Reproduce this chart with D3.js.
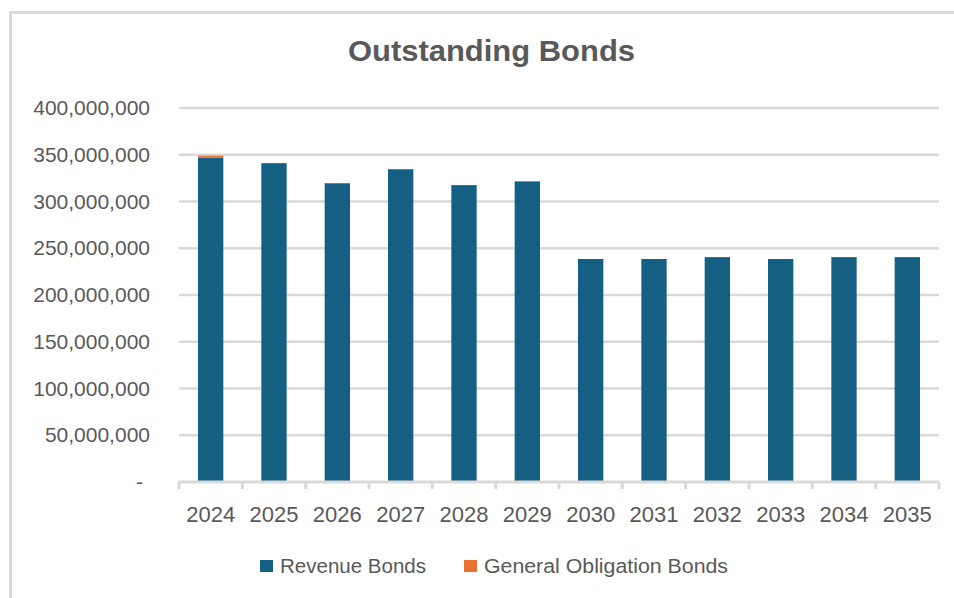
<!DOCTYPE html>
<html>
<head>
<meta charset="utf-8">
<script src="https://cdn.jsdelivr.net/npm/d3@7/dist/d3.min.js"></script>
<style>
  html, body { margin: 0; padding: 0; background: #fff; }
  svg { display: block; }
  text { font-family: "Liberation Sans", Arial, sans-serif; fill: #595959; }
</style>
</head>
<body>
<svg id="chart" width="954" height="598"></svg>
<script>
// Outstanding bonds by fiscal year (dollars)
const years = ["2024", "2025", "2026", "2027", "2028", "2029", "2030", "2031", "2032", "2033", "2034", "2035"];
const revenueBonds = [347000000, 341000000, 319500000, 334500000, 317500000, 321500000,
                      238500000, 238500000, 240500000, 238500000, 240500000, 240500000];
const generalObligationBonds = [2000000, 0, 0, 0, 0, 0, 0, 0, 0, 0, 0, 0];
const yTicks = [0, 50000000, 100000000, 150000000, 200000000, 250000000, 300000000, 350000000, 400000000];

const seriesNames = ["Revenue Bonds", "General Obligation Bonds"];
const colors = ["#156082", "#E97132"];
const gridColor = "#d9d9d9";

const svg = d3.select("#chart");

// chart frame
svg.append("path")
  .attr("d", "M10.5,620 L10.5,12.5 L970,12.5")
  .attr("fill", "none")
  .attr("stroke", gridColor)
  .attr("stroke-width", 3);

// title
svg.append("text")
  .attr("x", 491.5)
  .attr("y", 61)
  .attr("text-anchor", "middle")
  .attr("textLength", 287)
  .attr("lengthAdjust", "spacingAndGlyphs")
  .style("font-size", "29px")
  .style("font-weight", "bold")
  .text("Outstanding Bonds");

const x = d3.scaleBand()
  .domain(years)
  .range([179, 939])
  .paddingInner(0.6)
  .paddingOuter(0.3);

const y = d3.scaleLinear()
  .domain([0, 400000000])
  .range([482, 108]);

// horizontal gridlines
svg.append("g")
  .selectAll("line")
  .data(yTicks.filter(d => d > 0))
  .join("line")
  .attr("x1", 179)
  .attr("x2", 939)
  .attr("y1", d => y(d))
  .attr("y2", d => y(d))
  .attr("stroke", gridColor)
  .attr("stroke-width", 2.5);

// y-axis labels (accounting style: zero shown as a dash)
const fmt = d3.format(",");
svg.append("g")
  .selectAll("text")
  .data(yTicks)
  .join("text")
  .attr("x", d => d === 0 ? 143 : 150)
  .attr("y", d => y(d) + 7)
  .attr("text-anchor", "end")
  .style("font-size", "21px")
  .text(d => d === 0 ? "-" : fmt(d));

// stacked bars
const rows = years.map((yr, i) => ({
  year: yr,
  "Revenue Bonds": revenueBonds[i],
  "General Obligation Bonds": generalObligationBonds[i]
}));
const stacked = d3.stack().keys(seriesNames)(rows);

svg.append("g")
  .selectAll("g")
  .data(stacked)
  .join("g")
  .attr("fill", (d, i) => colors[i])
  .selectAll("rect")
  .data(d => d)
  .join("rect")
  .attr("x", d => x(d.data.year))
  .attr("width", x.bandwidth())
  .attr("y", d => y(d[1]))
  .attr("height", d => y(d[0]) - y(d[1]));

// category axis line with boundary ticks
const step = x.step();
const axis = svg.append("g");
axis.append("line")
  .attr("x1", 179)
  .attr("x2", 939)
  .attr("y1", y(0))
  .attr("y2", y(0))
  .attr("stroke", gridColor)
  .attr("stroke-width", 3);
axis.selectAll("line.tick")
  .data(d3.range(years.length + 1))
  .join("line")
  .attr("class", "tick")
  .attr("x1", i => 179 + i * step)
  .attr("x2", i => 179 + i * step)
  .attr("y1", y(0))
  .attr("y2", y(0) + 7)
  .attr("stroke", gridColor)
  .attr("stroke-width", 3);

axis.selectAll("text")
  .data(years)
  .join("text")
  .attr("x", d => x(d) + x.bandwidth() / 2)
  .attr("y", 522)
  .attr("text-anchor", "middle")
  .style("font-size", "22px")
  .text(d => d);

// legend
const legendX = [260, 464];
const legendTextWidth = [146, 244];
const legend = svg.append("g")
  .selectAll("g")
  .data(seriesNames)
  .join("g")
  .attr("transform", (d, i) => `translate(${legendX[i]},560)`);
legend.append("rect")
  .attr("width", 13)
  .attr("height", 12)
  .attr("fill", (d, i) => colors[i]);
legend.append("text")
  .attr("x", 20)
  .attr("y", 13)
  .attr("textLength", (d, i) => legendTextWidth[i])
  .attr("lengthAdjust", "spacingAndGlyphs")
  .style("font-size", "20px")
  .text(d => d);
</script>
</body>
</html>
